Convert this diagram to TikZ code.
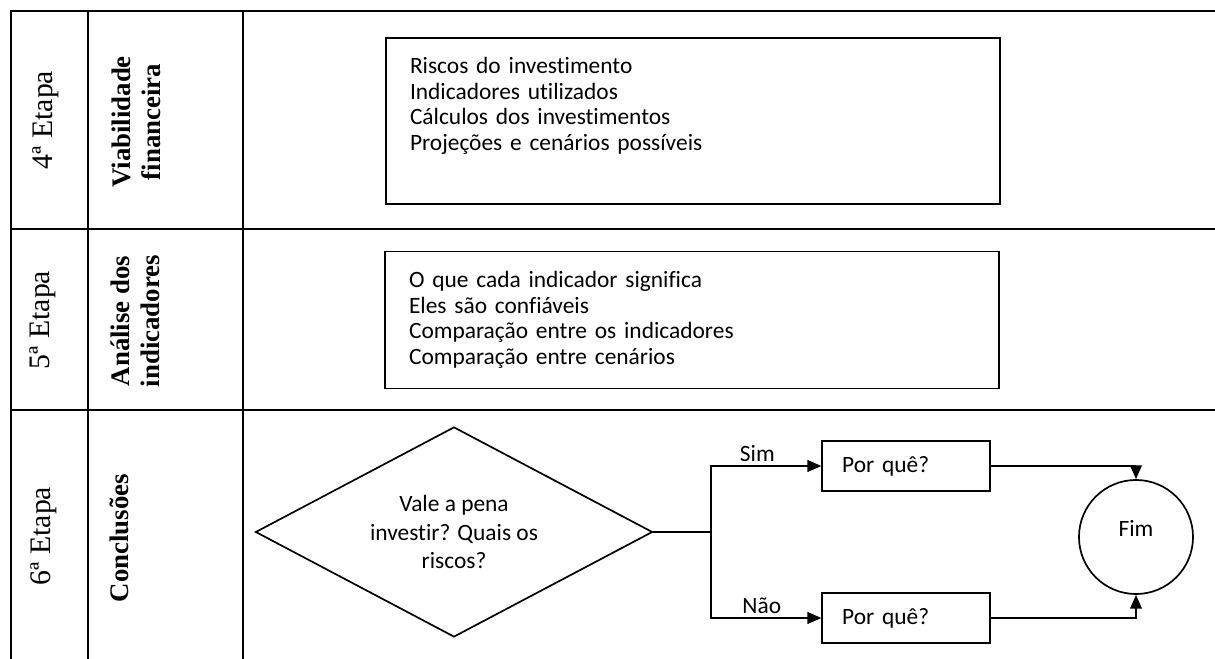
\documentclass[tikz,border=0pt]{standalone}
\usepackage{fontspec}
\setmainfont{Liberation Serif}
\newfontfamily\calibri[Ligatures=NoCommon,Contextuals=NoAlternate]{Carlito}
\usetikzlibrary{positioning,shapes.geometric,arrows.meta}

\begin{document}
\begin{tikzpicture}[x=0.47pt,y=-0.47pt,
  grid/.style={line width=1.2pt,draw=black},
  stage/.style={rotate=90,font=\fontsize{14}{16}\selectfont,align=center},
  topic/.style={rotate=90,font=\fontsize{12.6}{14}\selectfont\bfseries,align=center},
  listbox/.style={draw,line width=0.8pt,font=\calibri\fontsize{11}{12}\selectfont,align=left,text width=266pt,inner xsep=11.3pt},
  dec/.style={diamond,draw,line width=0.8pt,aspect=1.9,minimum width=186.6pt,minimum height=98.7pt,inner sep=0pt,align=center,font=\calibri\fontsize{11}{13.5}\selectfont},
  why/.style={draw,line width=0.8pt,font=\calibri\fontsize{11}{13}\selectfont,align=left,text width=60pt,inner xsep=9.4pt,minimum height=23.5pt},
  fin/.style={circle,draw,line width=0.8pt,minimum size=53.6pt,inner sep=0pt,font=\calibri\fontsize{11}{13}\selectfont},
  lbl/.style={font=\calibri\fontsize{11}{13}\selectfont,inner sep=1.5pt},
  link/.style={line width=0.8pt},
  arr/.style={-{Triangle[length=6.5pt,width=5.5pt]},line width=0.8pt}]
  \useasboundingbox (0,0) rectangle (1215,659);
  % table
  \draw[grid] (11,659) -- (11,11) -- (1215,11);
  \draw[grid] (88,11) -- (88,659);
  \draw[grid] (243,11) -- (243,659);
  \draw[grid] (11,229) -- (1215,229);
  \draw[grid] (11,410) -- (1215,410);
  % row heads
  \node[stage] (s4) at (46,120) {4ª Etapa};
  \node[stage] (s5) at (43,320) {5ª Etapa};
  \node[stage] (s6) at (44,536) {6ª Etapa};
  \node[topic] (t4) at (136,122) {Viabilidade\\financeira};
  \node[topic] (t5) at (135,321) {Análise dos\\indicadores};
  \node[topic] (t6) at (119,538) {Conclusões};
  % lists
  \node[listbox,minimum height=78pt] (viab) at (693,121) {Riscos do investimento\\Indicadores utilizados\\Cálculos dos investimentos\\Projeções e cenários possíveis\\[4pt]\mbox{}};
  \node[listbox,minimum height=64.4pt] (anal) at (692,320) {O que cada indicador significa\\Eles são confiáveis\\Comparação entre os indicadores\\Comparação entre cenários};
  % decision
  \node[dec] (q) at (454,532) {Vale a pena\\investir? Quais os\\riscos?};
  \coordinate (split) at (711,532);
  \node[why] (sim) at (906,466) {Por quê?};
  \node[why] (nao) at (906,618) {Por quê?};
  \node[fin] (fim) at (1136,537) {\raisebox{8.5pt}{Fim}};
  \draw[link] (q.east) -- (split);
  \draw[arr] (split) |- node[lbl,above,pos=0.71] (lsim) {Sim} (sim.west);
  \draw[arr] (split) |- node[lbl,above,pos=0.73] (lnao) {Não} (nao.west);
  \draw[arr] (sim.east) -| (fim.north);
  \draw[arr] (nao.east) -| (fim.south);
\end{tikzpicture}
\end{document}
